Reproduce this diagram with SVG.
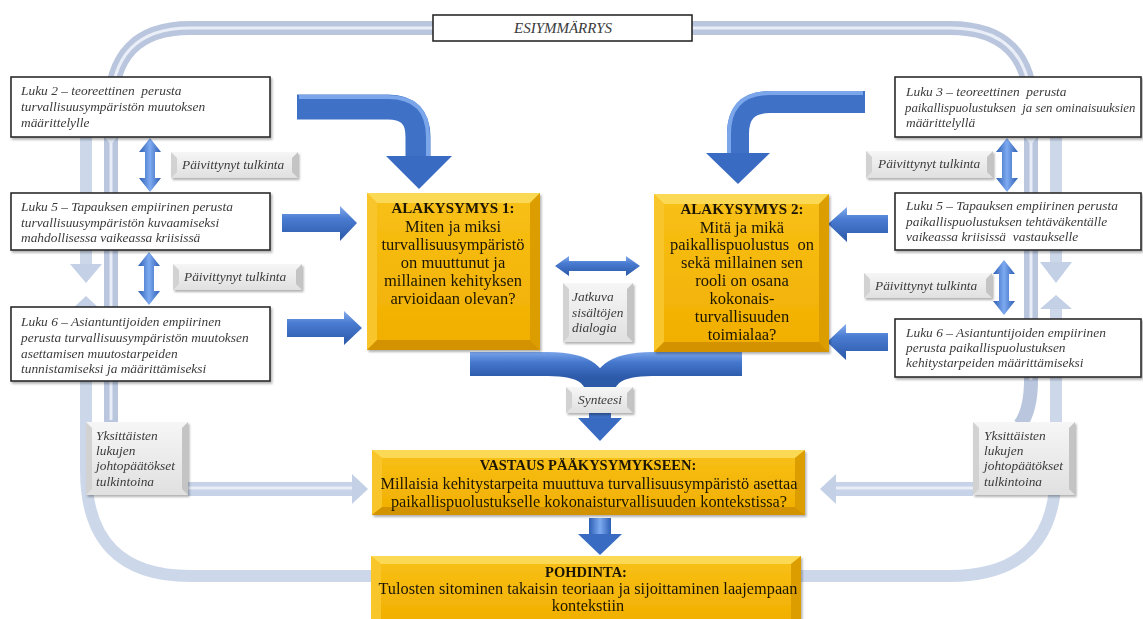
<svg xmlns="http://www.w3.org/2000/svg" width="1143" height="619" viewBox="0 0 1143 619">
<defs>
<style>
.box{fill:#fff;stroke:#2a2a2a;stroke-width:1.6;}
.bt{font-family:"Liberation Serif",serif;font-style:italic;font-size:13.4px;fill:#3a3a3a;}
.gt{font-family:"Liberation Serif",serif;font-size:16.5px;fill:#1c1606;text-anchor:middle;}
.vt{font-family:"Liberation Serif",serif;font-size:16.3px;fill:#1c1606;text-anchor:middle;}
.hd{font-weight:bold;font-size:15px;}
.vh{font-weight:bold;font-size:14.5px;}
.band{fill:none;stroke:#b9c6de;stroke-width:14;}
.band2{fill:none;stroke:#ccd8ea;stroke-width:12;}
.hl{fill:none;stroke:#e9eef7;stroke-width:3;}
.lh{fill:#c3d0e6;}
.gold{fill:url(#goldg);}
.bvT{fill:#fcd955;}
.bvL{fill:#f8c52c;}
.bvR{fill:#dc9d00;}
.bvB{fill:#d39300;}
.gbox{fill:url(#greyg);}
.gL{fill:#d2d2d2;}
.gR{fill:#c4c4c4;}
.blueH{fill:url(#blueH);}
.blueV{fill:url(#blueV);}
</style>
<linearGradient id="goldg" x1="0" y1="0" x2="0" y2="1"><stop offset="0" stop-color="#f8c117"/><stop offset="1" stop-color="#f1ae00"/></linearGradient>
<linearGradient id="greyg" x1="0" y1="0" x2="0" y2="1"><stop offset="0" stop-color="#f6f6f6"/><stop offset="1" stop-color="#e0e0e0"/></linearGradient>
<linearGradient id="blueH" x1="0" y1="0" x2="0" y2="1"><stop offset="0" stop-color="#86adec"/><stop offset="0.35" stop-color="#4a7cd2"/><stop offset="1" stop-color="#2b58a7"/></linearGradient>
<linearGradient id="blueV" x1="0" y1="0" x2="1" y2="0"><stop offset="0" stop-color="#2d5eb4"/><stop offset="0.5" stop-color="#7eaaf0"/><stop offset="1" stop-color="#2d5eb4"/></linearGradient>
<linearGradient id="synG" gradientUnits="userSpaceOnUse" x1="0" y1="352" x2="0" y2="378"><stop offset="0" stop-color="#7aa4ea"/><stop offset="0.4" stop-color="#4577cd"/><stop offset="1" stop-color="#2c59a8"/></linearGradient>
<filter id="sh" x="-10%" y="-10%" width="130%" height="140%"><feDropShadow dx="1.5" dy="2" stdDeviation="1.2" flood-color="#000" flood-opacity="0.3"/></filter>
</defs>
<rect width="1143" height="619" fill="#fff"/>

<g id="loop">
<path class="band" d="M111,425 V110 Q111,28 190,28 H950 Q1031,28 1031,110 V380 Q1031,410 1020,425"/>
<path class="hl" d="M111,420 V110 Q111,28 190,28 H950 Q1031,28 1031,110 V380"/>
<path class="band2" d="M86,90 V266"/>
<path class="band2" d="M86,310 V470 Q86,576 190,576 H372"/>
<path class="band2" d="M1056,90 V264"/>
<path class="band2" d="M1056,308 V470 Q1056,576 950,576 H800"/>
<polygon class="lh" points="70,264 102,264 86,283"/>
<polygon class="lh" points="70,311 102,311 86,296"/>
<polygon class="lh" points="1040,262 1072,262 1056,283"/>
<polygon class="lh" points="1040,309 1072,309 1056,295"/>
<polygon fill="#e3e9f3" points="104,137 118,137 111,144"/>
<polygon fill="#e3e9f3" points="1024,137 1038,137 1031,144"/>
<path fill="none" stroke="#c6d3e8" stroke-width="14" d="M188,489 H354"/>
<path class="hl" d="M188,488 H354"/>
<polygon class="lh" points="352,474 368,489 352,504"/>
<path fill="none" stroke="#c6d3e8" stroke-width="14" d="M973,489 H834"/>
<path class="hl" d="M973,488 H834"/>
<polygon class="lh" points="836,474 820,489 836,504"/>
</g>

<g id="connectors">
<path fill="none" stroke="#3f71c7" stroke-width="25" d="M297,107 H388 Q418,107 418,137 V158"/>
<path fill="none" stroke="#7ca6ea" stroke-width="4" d="M299,97 H388 Q428,97 428,137 V158"/>
<polygon fill="#3a6bc2" points="386,156 452,156 419,189"/>
<path fill="none" stroke="#3f71c7" stroke-width="22" d="M865,102 H770 Q738,102 738,134 V155"/>
<path fill="none" stroke="#7ca6ea" stroke-width="4" d="M863,93 H770 Q729,93 729,134 V155"/>
<polygon fill="#3a6bc2" points="706,153 770,153 738,184"/>

<polygon class="blueH" points="282,214 340,214 340,206 357,223 340,241 340,232 282,232"/>
<polygon class="blueH" points="287,319 344,319 344,311 362,328 344,345 344,337 287,337"/>
<polygon class="blueH" points="888,215 847,215 847,207 828,224 847,242 847,233 888,233"/>
<polygon class="blueH" points="888,333 846,333 846,324 827,342 846,360 846,351 888,351"/>

<polygon class="blueV" points="150,138 161,152 155,152 155,178 161,178 150,192 139,178 145,178 145,152 139,152"/>
<polygon class="blueV" points="149,252 160,266 154,266 154,291 160,291 149,305 138,291 144,291 144,266 138,266"/>
<polygon class="blueV" points="1007,138 1018,152 1012,152 1012,178 1018,178 1007,192 996,178 1002,178 1002,152 996,152"/>
<polygon class="blueV" points="1004,260 1015,274 1009,274 1009,301 1015,301 1004,315 993,301 999,301 999,274 993,274"/>

<polygon class="blueH" points="555,266 569,256 569,261 626,261 626,256 640,266 626,276 626,271 569,271 569,276"/>

<path fill="none" stroke="url(#synG)" stroke-width="24" d="M470,364 H548 C585,364 600,375 600,405"/>
<path fill="none" stroke="url(#synG)" stroke-width="24" d="M742,364 H652 C615,364 600,375 600,405"/>
<path fill="none" stroke="#3e6fc4" stroke-width="22" d="M600,398 V420"/>
<polygon fill="#3a6bc2" points="578,418 622,418 600,441"/>
<rect x="589" y="518" width="22" height="18" fill="url(#blueV)"/>
<polygon fill="#3a6bc2" points="578,534 622,534 600,555"/>
</g>

<g id="esiymmarrys">
<rect class="box" x="433" y="15" width="259" height="26"/>
<text class="bt" x="563" y="33" style="font-size:15px" text-anchor="middle">ESIYMMÄRRYS</text>
</g>

<g id="luku2" filter="url(#sh)">
<rect class="box" x="11" y="77" width="259" height="60"/>
<text class="bt" x="21" y="95" xml:space="preserve">Luku 2 – teoreettinen  perusta</text>
<text class="bt" x="21" y="111">turvallisuusympäristön muutoksen</text>
<text class="bt" x="21" y="127">määrittelylle</text>
</g>
<g id="luku5" filter="url(#sh)">
<rect class="box" x="11" y="193" width="259" height="57"/>
<text class="bt" x="21" y="211">Luku 5 – Tapauksen empiirinen perusta</text>
<text class="bt" x="21" y="227">turvallisuusympäristön kuvaamiseksi</text>
<text class="bt" x="21" y="242">mahdollisessa vaikeassa kriisissä</text>
</g>
<g id="luku6" filter="url(#sh)">
<rect class="box" x="11" y="307" width="259" height="74"/>
<text class="bt" x="21" y="326">Luku 6 – Asiantuntijoiden empiirinen</text>
<text class="bt" x="21" y="342">perusta turvallisuusympäristön muutoksen</text>
<text class="bt" x="21" y="358">asettamisen muutostarpeiden</text>
<text class="bt" x="21" y="373">tunnistamiseksi ja määrittämiseksi</text>
</g>

<g id="luku3" filter="url(#sh)">
<rect class="box" x="895" y="77" width="246" height="60"/>
<text class="bt" x="906" y="96" xml:space="preserve">Luku 3 – teoreettinen  perusta</text>
<text class="bt" x="905" y="112" style="font-size:12.8px" xml:space="preserve">paikallispuolustuksen  ja sen ominaisuuksien</text>
<text class="bt" x="906" y="127">määrittelyllä</text>
</g>
<g id="luku5r" filter="url(#sh)">
<rect class="box" x="895" y="193" width="246" height="57"/>
<text class="bt" x="906" y="210">Luku 5 – Tapauksen empiirinen perusta</text>
<text class="bt" x="906" y="226">paikallispuolustuksen tehtäväkentälle</text>
<text class="bt" x="906" y="241" xml:space="preserve">vaikeassa kriisissä  vastaukselle</text>
</g>
<g id="luku6r" filter="url(#sh)">
<rect class="box" x="895" y="319" width="246" height="58"/>
<text class="bt" x="906" y="337">Luku 6 – Asiantuntijoiden empiirinen</text>
<text class="bt" x="906" y="352">perusta paikallispuolustuksen</text>
<text class="bt" x="906" y="367">kehitystarpeiden määrittämiseksi</text>
</g>

<g id="pt1l" filter="url(#sh)">
<rect class="gbox" x="171" y="152" width="127" height="26"/>
<polygon class="gL" points="171,152 177,158 177,172 171,178"/>
<polygon class="gR" points="298,152 298,178 292,172 292,158"/>
<text class="bt" x="182" y="169">Päivittynyt tulkinta</text>
</g>
<g id="pt2l" filter="url(#sh)">
<rect class="gbox" x="173" y="264" width="129" height="26"/>
<polygon class="gL" points="173,264 179,270 179,284 173,290"/>
<polygon class="gR" points="302,264 302,290 296,284 296,270"/>
<text class="bt" x="184" y="281">Päivittynyt tulkinta</text>
</g>
<g id="pt1r" filter="url(#sh)">
<rect class="gbox" x="866" y="151" width="127" height="27"/>
<polygon class="gL" points="866,151 872,157 872,172 866,178"/>
<polygon class="gR" points="993,151 993,178 987,172 987,157"/>
<text class="bt" x="878" y="168">Päivittynyt tulkinta</text>
</g>
<g id="pt2r" filter="url(#sh)">
<rect class="gbox" x="864" y="273" width="128" height="25"/>
<polygon class="gL" points="864,273 870,279 870,292 864,298"/>
<polygon class="gR" points="992,273 992,298 986,292 986,279"/>
<text class="bt" x="875" y="290">Päivittynyt tulkinta</text>
</g>
<g id="jatkuva" filter="url(#sh)">
<rect class="gbox" x="563" y="283" width="70" height="59"/>
<polygon class="gL" points="563,283 569,289 569,336 563,342"/>
<polygon class="gR" points="633,283 633,342 627,336 627,289"/>
<text class="bt" x="572" y="301">Jatkuva</text>
<text class="bt" x="572" y="317">sisältöjen</text>
<text class="bt" x="572" y="332">dialogia</text>
</g>
<g id="synteesi" filter="url(#sh)">
<rect class="gbox" x="566" y="387" width="67" height="26"/>
<polygon class="gL" points="566,387 572,393 572,407 566,413"/>
<polygon class="gR" points="633,387 633,413 627,407 627,393"/>
<text class="bt" x="600" y="404" text-anchor="middle">Synteesi</text>
</g>
<g id="yksl" filter="url(#sh)">
<rect class="gbox" x="86" y="422" width="102" height="73"/>
<polygon class="gL" points="86,422 92,428 92,489 86,495"/>
<polygon class="gR" points="188,422 188,495 182,489 182,428"/>
<text class="bt" x="96" y="440">Yksittäisten</text>
<text class="bt" x="96" y="455">lukujen</text>
<text class="bt" x="96" y="470">johtopäätökset</text>
<text class="bt" x="96" y="486">tulkintoina</text>
</g>
<g id="yksr" filter="url(#sh)">
<rect class="gbox" x="973" y="422" width="102" height="73"/>
<polygon class="gL" points="973,422 979,428 979,489 973,495"/>
<polygon class="gR" points="1075,422 1075,495 1069,489 1069,428"/>
<text class="bt" x="984" y="440">Yksittäisten</text>
<text class="bt" x="984" y="455">lukujen</text>
<text class="bt" x="984" y="470">johtopäätökset</text>
<text class="bt" x="984" y="486">tulkintoina</text>
</g>

<g id="alakysymys1" filter="url(#sh)">
<rect class="gold" x="367" y="193" width="173" height="157"/>
<polygon class="bvT" points="367,193 540,193 530,203 377,203"/>
<polygon class="bvL" points="367,193 377,203 377,340 367,350"/>
<polygon class="bvR" points="540,193 540,350 530,340 530,203"/>
<polygon class="bvB" points="367,350 377,340 530,340 540,350"/>
<text class="gt hd" x="453" y="213">ALAKYSYMYS 1:</text>
<text class="gt" x="453" y="232">Miten ja miksi</text>
<text class="gt" x="453" y="250">turvallisuusympäristö</text>
<text class="gt" x="453" y="268">on muuttunut ja</text>
<text class="gt" x="453" y="286">millainen kehityksen</text>
<text class="gt" x="453" y="304">arvioidaan olevan?</text>
</g>
<g id="alakysymys2" filter="url(#sh)">
<rect class="gold" x="654" y="194" width="175" height="158"/>
<polygon class="bvT" points="654,194 829,194 819,204 664,204"/>
<polygon class="bvL" points="654,194 664,204 664,342 654,352"/>
<polygon class="bvR" points="829,194 829,352 819,342 819,204"/>
<polygon class="bvB" points="654,352 664,342 819,342 829,352"/>
<text class="gt hd" x="742" y="214">ALAKYSYMYS 2:</text>
<text class="gt" x="742" y="233">Mitä ja mikä</text>
<text class="gt" x="742" y="250" xml:space="preserve">paikallispuolustus  on</text>
<text class="gt" x="742" y="268">sekä millainen sen</text>
<text class="gt" x="742" y="286">rooli on osana</text>
<text class="gt" x="742" y="304">kokonais-</text>
<text class="gt" x="742" y="322">turvallisuuden</text>
<text class="gt" x="742" y="340">toimialaa?</text>
</g>
<g id="vastaus" filter="url(#sh)">
<rect class="gold" x="372" y="450" width="433" height="65"/>
<polygon class="bvT" points="372,450 805,450 795,458 382,458"/>
<polygon class="bvL" points="372,450 382,458 382,507 372,515"/>
<polygon class="bvR" points="805,450 805,515 795,507 795,458"/>
<polygon class="bvB" points="372,515 382,507 795,507 805,515"/>
<text class="vt vh" x="588" y="470">VASTAUS PÄÄKYSYMYKSEEN:</text>
<text class="vt" x="589" y="489">Millaisia kehitystarpeita muuttuva turvallisuusympäristö asettaa</text>
<text class="vt" x="589" y="507">paikallispuolustukselle kokonaisturvallisuuden kontekstissa?</text>
</g>
<g id="pohdinta" filter="url(#sh)">
<rect class="gold" x="371" y="556" width="430" height="70"/>
<polygon class="bvT" points="371,556 801,556 791,564 381,564"/>
<polygon class="bvL" points="371,556 381,564 381,626 371,626"/>
<polygon class="bvR" points="801,556 801,626 791,626 791,564"/>
<text class="vt vh" x="586" y="577">POHDINTA:</text>
<text class="vt" x="588" y="594">Tulosten sitominen takaisin teoriaan ja sijoittaminen laajempaan</text>
<text class="vt" x="588" y="611">kontekstiin</text>
</g>
</svg>
